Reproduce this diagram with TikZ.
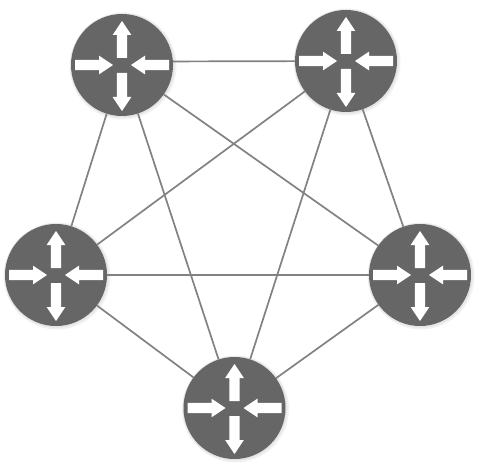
\documentclass[tikz,border=0pt]{standalone}
\definecolor{routerfill}{HTML}{666666}
\definecolor{linkcol}{HTML}{828282}
\tikzset{
  routernode/.style={circle,fill=routerfill,minimum size=102pt,inner sep=0pt,outer sep=0pt,draw=none},
  halo/.style={circle,fill=black,fill opacity=0.05,draw=none,inner sep=0pt},
  linkline/.style={draw=linkcol,line width=1.7pt},
  arrowshape/.style={fill=white,draw=none},
}
\newcommand{\rarrow}[4]{% centre, angle, base, tip
  \begin{scope}[shift={(#1)},rotate=#2]
    \fill[arrowshape] (#3,-5.2) -- ({#4-14},-5.2) -- ({#4-14},-9.4) -- (#4,0) -- ({#4-14},9.4) -- ({#4-14},5.2) -- (#3,5.2) -- cycle;
  \end{scope}}
\newcommand{\routericon}[1]{%
  \rarrow{#1}{90}{7}{44}
  \rarrow{#1}{-90}{8}{46}
  \rarrow{#1}{0}{-47}{-9}
  \rarrow{#1}{180}{-47}{-9}}
\begin{document}
\begin{tikzpicture}[x=1pt,y=-1pt]
\useasboundingbox (0,0) rectangle (487,476);
\fill[white] (0,0) rectangle (487,476);
\coordinate (pa) at (122,65);
\coordinate (pb) at (346,61);
\coordinate (pc) at (56,275);
\coordinate (pd) at (420,275);
\coordinate (pe) at (234.5,408);
\foreach \p in {pa,pb,pc,pd,pe}{
  \node[halo,minimum size=107pt] at ([shift={(1,1)}]\p) {};
  \node[halo,minimum size=104.5pt] at ([shift={(0.5,0.5)}]\p) {};
}
\node[routernode] (ra) at (pa) {};
\node[routernode] (rb) at (pb) {};
\node[routernode] (rc) at (pc) {};
\node[routernode] (rd) at (pd) {};
\node[routernode] (re) at (pe) {};
\draw[linkline] (ra.4) -- (rb);
\draw[linkline] (ra) -- (rc);
\draw[linkline] (ra) -- (rd);
\draw[linkline] (ra) -- (re);
\draw[linkline] (rb) -- (rc);
\draw[linkline] (rb) -- (rd);
\draw[linkline] (rb) -- (re);
\draw[linkline] (rc) -- (rd);
\draw[linkline] (rc) -- (re);
\draw[linkline] (rd) -- (re);
\routericon{ra}
\routericon{rb}
\routericon{rc}
\routericon{rd}
\routericon{re}
\end{tikzpicture}
\end{document}
